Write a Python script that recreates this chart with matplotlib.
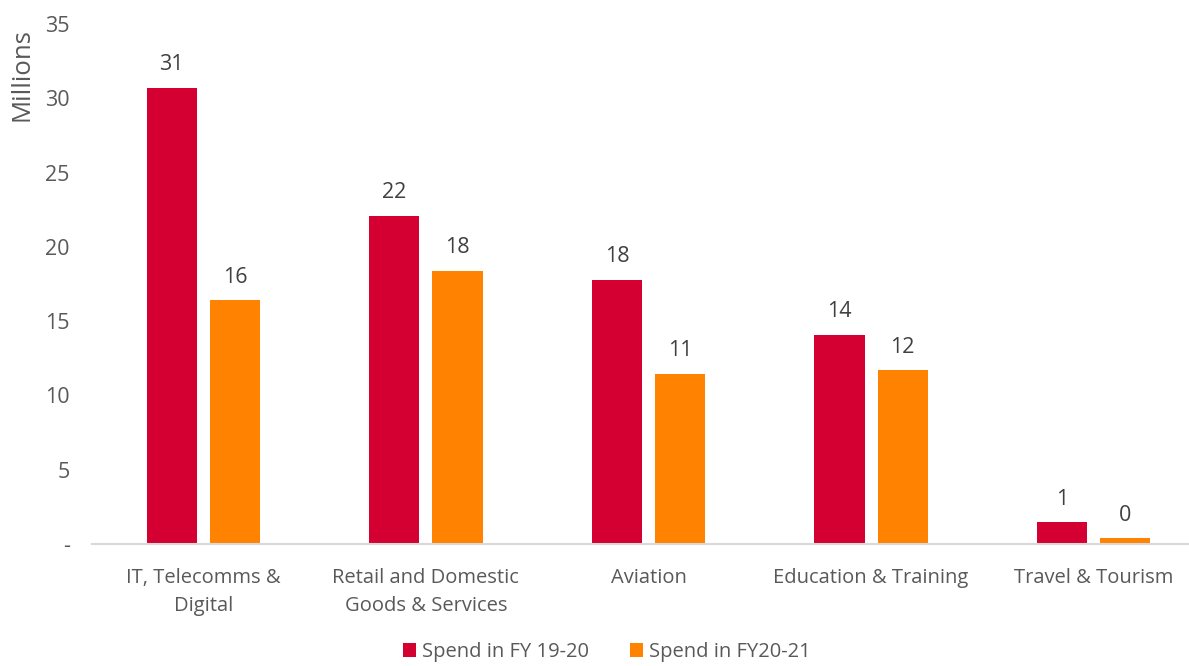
import matplotlib
matplotlib.use("Agg")
import matplotlib.pyplot as plt
import numpy as np

categories = ["IT, Telecomms &\nDigital", "Retail and Domestic\nGoods & Services",
              "Aviation", "Education & Training", "Travel & Tourism"]
spend_1920 = [30.7, 22.1, 17.8, 14.1, 1.45]
spend_2021 = [16.4, 18.4, 11.45, 11.7, 0.4]
series_names = ["Spend in FY 19-20", "Spend in FY20-21"]
colors = ["#D50032", "#FF8200"]
yticks = [0, 5, 10, 15, 20, 25, 30, 35]
ytick_labels = ["-", "5", "10", "15", "20", "25", "30", "35"]

plt.rcParams['font.family'] = ['Open Sans', 'DejaVu Sans']
text_color = "#595959"

W, H = 1189, 666
fig = plt.figure(figsize=(W/100, H/100), dpi=100)
left, right = 92, 1205
ax = fig.add_axes([left/W, (H-544)/H, (right-left)/W, 520/H])

x = np.arange(len(categories))
bw = 0.225
off = 0.142
b1 = ax.bar(x - off, spend_1920, bw, color=colors[0], label=series_names[0])
b2 = ax.bar(x + off, spend_2021, bw, color=colors[1], label=series_names[1])

for bars, vals in ((b1, spend_1920), (b2, spend_2021)):
    for rect, v in zip(bars, vals):
        ax.annotate(f"{v:.0f}", (rect.get_x() + rect.get_width()/2, v),
                    xytext=(0, 9), textcoords="offset points",
                    ha="center", va="bottom", fontsize=15.5, color="#404040")

ax.set_xlim(-0.5, len(categories) - 0.5)
ax.set_ylim(0, 35)
ax.set_yticks(yticks)
ax.set_yticklabels(ytick_labels)
ax.set_xticks(x)
ax.set_xticklabels(categories, linespacing=1.55)
ax.tick_params(axis="both", length=0, labelcolor=text_color)
ax.tick_params(axis="y", pad=16, labelsize=15.5)
ax.tick_params(axis="x", pad=17, labelsize=14.5)
for s in ["top", "right", "left"]:
    ax.spines[s].set_visible(False)
ax.spines["bottom"].set_color("#D9D9D9")
ax.spines["bottom"].set_linewidth(1.5)

fig.text(22/W, 1 - 75/H, "Millions", rotation=90, ha="center", va="center",
         fontsize=18.5, color=text_color)

leg = fig.legend(handles=[b1, b2], labels=series_names, loc="center",
                 bbox_to_anchor=(607/W, 1 - 652/H), ncol=2, frameon=False,
                 fontsize=14.5, handlelength=0.65, handleheight=0.65,
                 handletextpad=0.3, columnspacing=2.0, borderpad=0.1)
for t in leg.get_texts():
    t.set_color(text_color)

fig.savefig("out.png", dpi=100)
